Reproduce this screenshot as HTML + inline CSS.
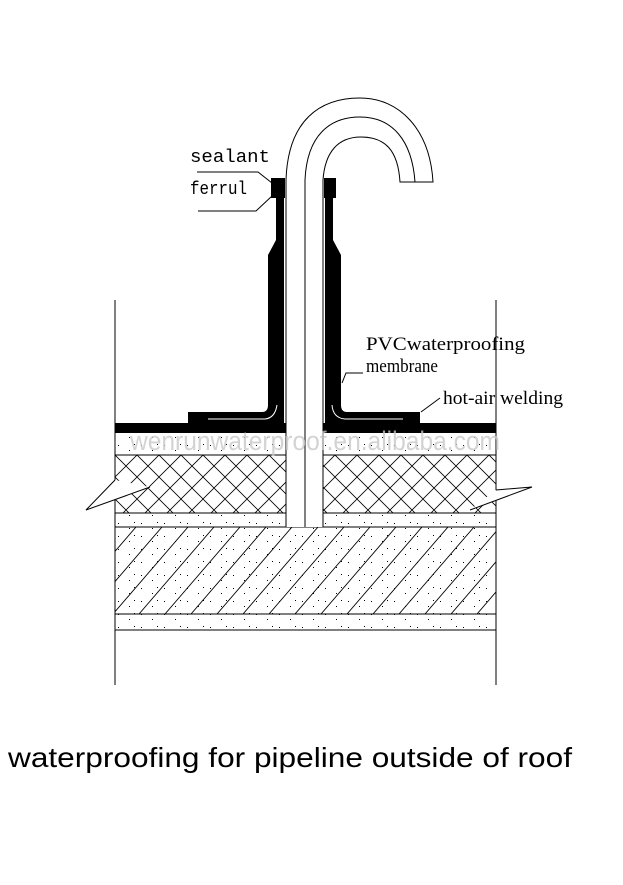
<!DOCTYPE html>
<html><head><meta charset="utf-8"><style>html,body{margin:0;padding:0;background:#fff}svg{display:block}</style></head>
<body>
<svg width="623" height="885" viewBox="0 0 623 885" xmlns="http://www.w3.org/2000/svg">
<defs>
<pattern id="xh" width="22" height="22" patternUnits="userSpaceOnUse" x="115" y="455">
<path d="M0 0L22 22M22 0L0 22" stroke="#000" stroke-width="0.8"/>
</pattern>
<pattern id="dots" width="23" height="13" patternUnits="userSpaceOnUse">
<rect x="3" y="3" width="1" height="1" fill="#000"/><rect x="14" y="8" width="1" height="1" fill="#000"/><rect x="19" y="2" width="1" height="1" fill="#000"/>
</pattern>
<clipPath id="cc"><rect x="115" y="527" width="381" height="87"/></clipPath>
</defs>
<g stroke="#000" stroke-width="1" fill="none">
<line x1="115" y1="300" x2="115" y2="685"/>
<line x1="496" y1="300" x2="496" y2="685"/>
<rect x="115" y="433" width="381" height="22" fill="url(#dots)" stroke="none"/>
<line x1="115" y1="455" x2="496" y2="455"/>
<rect x="115" y="455" width="381" height="58" fill="url(#xh)" stroke="none"/>
<line x1="115" y1="513" x2="496" y2="513"/>
<rect x="115" y="513" width="381" height="14" fill="url(#dots)" stroke="none"/>
<rect x="115" y="527" width="381" height="87" fill="url(#dots)" stroke="none"/>
<g clip-path="url(#cc)" stroke-width="0.9">
<path d="M35 614 L110 527 M61 614 L136 527 M87 614 L162 527 M113 614 L188 527 M139 614 L214 527 M165 614 L240 527 M191 614 L266 527 M217 614 L292 527 M243 614 L318 527 M269 614 L344 527 M295 614 L370 527 M321 614 L396 527 M347 614 L422 527 M373 614 L448 527 M399 614 L474 527 M425 614 L500 527 M451 614 L526 527 M477 614 L552 527"/>
</g>
<line x1="115" y1="527" x2="496" y2="527"/>
<line x1="115" y1="614" x2="496" y2="614"/>
<rect x="115" y="614" width="381" height="16" fill="url(#dots)" stroke="none"/>
<line x1="115" y1="630" x2="496" y2="630"/>
<path d="M115 480 L86 510 L150 487" fill="#fff"/>
<path d="M496 490 L532 487 L470 510" fill="#fff"/>
<rect x="286" y="180" width="37" height="347" fill="#fff" stroke="none"/>
<line x1="286" y1="180" x2="286" y2="527"/>
<line x1="305" y1="180" x2="305" y2="527"/>
<line x1="323" y1="180" x2="323" y2="527"/>
<path d="M286 180 C288 120 320 98 360 98 C400 98 430 130 433 182 L400 182 C398 150 385 137 361 137 C338 137 325 152 323 180" fill="#fff"/>
<path d="M305 180 C307 135 330 117 360 117 C392 117 412 140 415 182"/>
</g>
<g fill="#000">
<rect x="115" y="423" width="171" height="10"/>
<rect x="323" y="423" width="173" height="10"/>
<path d="M276 178 L284 178 L284 423 L188 423 L188 412 L262 412 Q268 412 268 405 L268 255 L276 240 Z"/>
<rect x="271" y="178" width="14" height="20"/>
<path d="M325 178 L333 178 L333 240 L341 255 L341 405 Q341 412 347 412 L420 412 L420 423 L325 423 Z"/>
<rect x="324" y="178" width="12" height="20"/>
</g>
<g stroke="#fff" stroke-width="1" fill="none">
<path d="M208 419 L265 419 Q275 418 277 405"/>
<path d="M403 419 L345 419 Q333 418 332 405"/>
</g>
<g stroke="#000" stroke-width="1" fill="none">
<path d="M197 172 L258 172 L272 183"/>
<path d="M198 211 L256 211 L272 196"/>
<path d="M363 373 L346 373 L342 383"/>
<path d="M440 398 L421 412"/>
</g>
<g font-family="Liberation Mono, monospace" font-size="18" fill="#000">
<text x="190" y="162" textLength="80" lengthAdjust="spacingAndGlyphs">sealant</text>
<text x="190" y="194" textLength="57" lengthAdjust="spacingAndGlyphs">ferrul</text>
</g>
<g font-family="Liberation Serif, serif" font-size="19" fill="#000">
<text x="366" y="350" textLength="159" lengthAdjust="spacingAndGlyphs">PVCwaterproofing</text>
<text x="366" y="372" textLength="72" lengthAdjust="spacingAndGlyphs">membrane</text>
<text x="443" y="404" textLength="120" lengthAdjust="spacingAndGlyphs">hot-air welding</text>
</g>
<text x="130" y="450" font-family="Liberation Sans, sans-serif" font-size="27" fill="#c8c8c8" fill-opacity="0.8" textLength="370" lengthAdjust="spacingAndGlyphs">wenrunwaterproof.en.alibaba.com</text>
<text x="8" y="767" font-family="Liberation Sans, sans-serif" font-size="28" fill="#000" textLength="564" lengthAdjust="spacingAndGlyphs">waterproofing for pipeline outside of roof</text>
</svg>
</body></html>
